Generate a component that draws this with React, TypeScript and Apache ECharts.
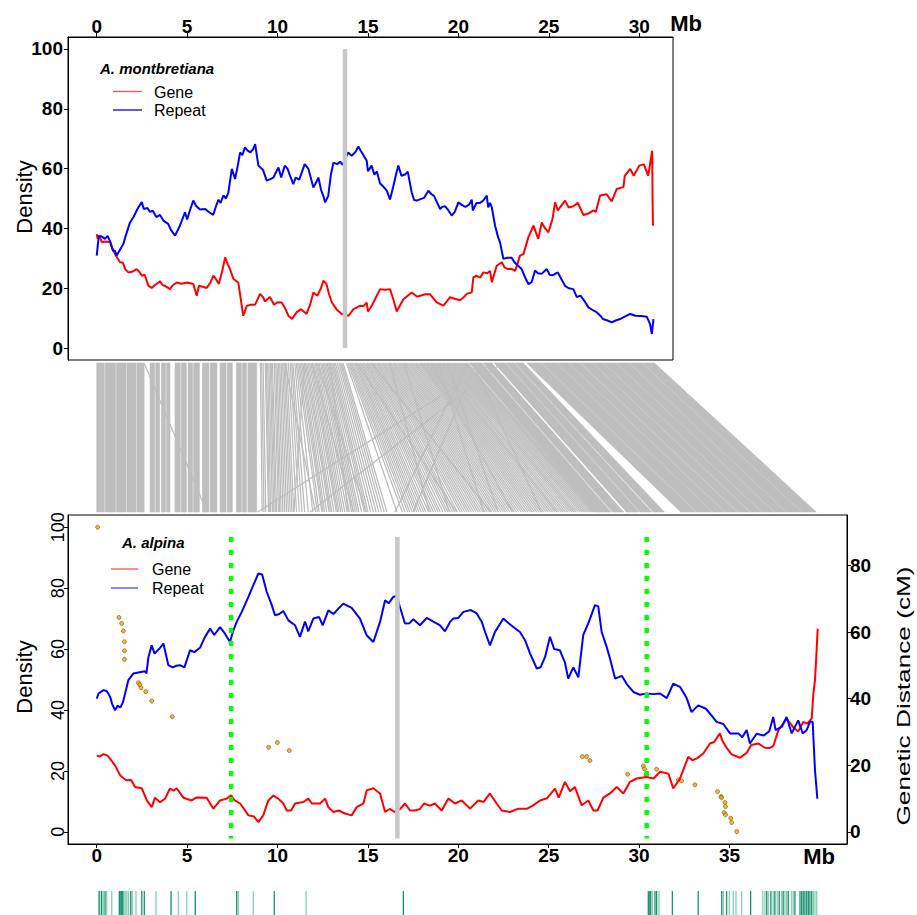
import React, { useEffect, useRef } from "react";
import * as echarts from "echarts";

const FONT = '"Liberation Sans", Arial, Helvetica, sans-serif';

// ---- A. montbretiana density (Mb, %) ----
const montRepeat: number[][] = [
  [0.0,30.9],[0.05,34],[0.12,37.6],[0.3,37.2],[0.45,36.5],[0.6,37.5],[0.75,35.5],[0.9,32.5],[1.01,32.5],[1.1,30.9],[1.25,32.5],[1.47,34.8],[1.6,37.5],[1.84,42],[2.05,44],[2.25,46.5],[2.49,48.8],[2.6,46.5],[2.8,46.8],[2.95,45.5],[3.1,45.9],[3.3,43.8],[3.5,44.5],[3.7,42.5],[3.95,41.5],[4.1,39.5],[4.33,37.6],[4.6,40.9],[4.88,45.4],[5.0,43],[5.15,46],[5.34,49.3],[5.5,47.5],[5.71,46.3],[6.0,46.5],[6.2,45.5],[6.44,44.5],[6.6,47.5],[6.73,49.6],[6.85,48.5],[7.0,51],[7.15,50],[7.28,52],[7.47,59.9],[7.65,56.5],[7.8,61],[7.93,65.4],[8.05,64.5],[8.2,67.1],[8.35,66],[8.5,65.4],[8.65,66.5],[8.76,68.2],[8.94,61],[9.2,59.5],[9.4,56],[9.6,56.5],[9.77,57],[10.05,60.4],[10.2,57],[10.4,61],[10.55,60],[10.7,57.5],[10.87,54.8],[11.0,57],[11.2,56.3],[11.5,61.5],[11.7,60],[11.98,53.7],[12.1,55],[12.26,57],[12.4,53],[12.53,50.9],[12.63,48.7],[12.8,50.8],[12.95,58],[13.09,62],[13.3,61.5],[13.46,62.3],[13.6,61.2],[13.9,65.4],[14.1,64.3],[14.3,65.5],[14.47,67.4],[14.6,66],[14.75,64.5],[14.93,62.6],[15.0,59.1],[15.2,61],[15.35,58],[15.49,59],[15.67,55],[15.85,54],[16.04,52.6],[16.22,49.7],[16.4,54],[16.55,58],[16.68,61],[16.85,57.6],[17.05,58],[17.2,59],[17.42,52],[17.55,49.5],[17.7,49.3],[17.9,49.8],[18.1,50.2],[18.34,52.6],[18.5,51.5],[18.65,50.9],[18.99,46.5],[19.1,47.2],[19.27,47.4],[19.45,46],[19.63,44.3],[19.8,45.5],[20.0,48.7],[20.2,47.8],[20.4,47.2],[20.6,48],[20.74,49.6],[20.8,46],[21.0,48.5],[21.2,48.5],[21.4,49.5],[21.57,51],[21.65,47],[21.75,48.5],[21.85,47],[22.03,40.9],[22.2,37],[22.3,35.4],[22.49,29.8],[22.7,30.2],[22.95,30.2],[23.1,28.7],[23.3,27.5],[23.5,26.4],[23.7,23.5],[23.87,21.4],[24.05,22],[24.24,25.9],[24.4,25],[24.6,24.8],[24.89,26.4],[25.05,24.5],[25.2,24.3],[25.5,25.3],[25.7,23],[25.9,20.8],[26.1,20],[26.36,19.7],[26.55,17],[26.75,17.5],[27.0,15.5],[27.19,13.6],[27.4,12.8],[27.66,11.9],[27.85,10.8],[28.0,9.7],[28.25,9.2],[28.48,8.6],[28.7,9.2],[28.94,9.7],[29.2,10.5],[29.5,11.4],[29.8,10.8],[30.1,10.7],[30.42,10.5],[30.6,8],[30.7,4.7],[30.79,9.7]
];
const montGene: number[][] = [
  [0.0,38.1],[0.05,36.5],[0.15,37.5],[0.28,35.4],[0.5,35.6],[0.74,35.4],[0.85,33.5],[1.01,31.4],[1.15,30],[1.29,28.7],[1.45,28.5],[1.57,26.4],[1.75,25.3],[1.95,25.5],[2.21,26.4],[2.35,25.5],[2.49,24.2],[2.65,24.5],[2.86,20.8],[3.04,20.1],[3.2,21],[3.5,22.3],[3.65,21],[3.78,20.8],[4.05,19.7],[4.2,21],[4.42,21.9],[4.7,21.5],[5.0,21.9],[5.34,21.4],[5.53,17.5],[5.65,20.8],[5.85,20.5],[6.08,20.1],[6.3,22],[6.45,24.2],[6.6,23],[6.75,21.4],[6.95,26],[7.1,30.3],[7.25,28],[7.37,26.4],[7.56,23.1],[7.83,21.9],[7.95,17],[8.1,10.8],[8.3,14.1],[8.5,14.5],[8.76,14.5],[9.03,18.1],[9.2,17],[9.3,15.6],[9.58,17.1],[9.8,14.5],[10.0,15.3],[10.23,15.2],[10.4,13.5],[10.6,10.8],[10.8,9.7],[11.06,12],[11.3,13],[11.6,11.4],[11.8,14.5],[11.98,18.6],[12.2,17.5],[12.4,20],[12.53,22.5],[12.7,21.5],[12.85,18],[13.0,15.3],[13.25,13],[13.55,11.4],[13.92,10.8],[14.2,13],[14.56,14.1],[14.75,14],[14.93,15.2],[15.0,12.2],[15.2,14],[15.39,16.3],[15.67,19.7],[15.95,19.5],[16.22,19.7],[16.4,16.3],[16.59,12.2],[16.96,16.3],[17.2,17.5],[17.42,18.6],[17.7,17.2],[17.9,17.5],[18.15,18],[18.43,18],[18.8,15.3],[19.17,14.2],[19.35,15.5],[19.54,17],[19.8,16.5],[20.09,16],[20.3,17],[20.46,18.1],[20.74,18.6],[20.83,23.6],[21.0,24.2],[21.2,23.5],[21.38,25.3],[21.6,25],[21.75,25.8],[21.85,22],[22.12,27.5],[22.4,28.7],[22.55,27],[22.75,26.4],[22.95,26.5],[23.14,25.8],[23.41,30.9],[23.6,31.4],[23.87,37],[24.15,40.9],[24.42,36.5],[24.61,42],[24.8,40],[24.98,38.7],[25.2,43],[25.35,48.7],[25.5,46],[25.9,49.3],[26.1,47],[26.36,47.4],[26.6,48.6],[26.91,44.5],[27.2,45],[27.47,46],[27.6,45.5],[27.84,51],[28.2,51.4],[28.48,49],[28.76,53.2],[29.13,53.8],[29.2,57.6],[29.5,59.9],[29.7,57.6],[30.0,61],[30.26,61.4],[30.5,57.6],[30.72,66],[30.74,49.8],[30.76,40.9]
];

// ---- A. alpina density (Mb, %) ----
const alpRepeat: number[][] = [
  [0.0,43.7],[0.1,45.4],[0.37,46.5],[0.55,46.2],[0.74,44.3],[0.85,42],[1.01,39.9],[1.15,41.4],[1.3,40.8],[1.45,42.5],[1.57,45.4],[1.75,49.8],[2.03,52],[2.3,52.3],[2.67,52.7],[2.75,52],[2.86,57.4],[3.04,61.2],[3.2,58.5],[3.5,60.4],[3.69,61.8],[3.96,54.7],[4.2,54],[4.4,54.5],[4.6,54.7],[4.85,54],[5.16,59.6],[5.4,59],[5.71,60.4],[5.99,64],[6.27,66.7],[6.5,64.6],[6.82,67.2],[7.05,65.4],[7.37,62.3],[7.55,66],[7.74,68.9],[8.02,72.2],[8.39,77.1],[8.66,81],[8.94,84.8],[9.15,84.5],[9.4,78.8],[9.68,74.4],[9.86,71.1],[10.1,71.5],[10.32,72.5],[10.6,69.4],[10.97,67.8],[11.24,64],[11.52,69],[11.7,65.8],[11.98,70],[12.3,70.5],[12.5,67.8],[12.81,72.7],[13.1,71.5],[13.4,73.5],[13.64,74.9],[14.1,73.5],[14.56,70],[14.93,64.5],[15.3,62.3],[15.67,68.9],[15.95,76],[16.15,75],[16.4,77.1],[16.6,77.5],[16.77,73.8],[17.05,68.4],[17.3,68.5],[17.51,69.8],[17.88,67.8],[18.25,70.2],[18.62,69],[18.99,67.8],[19.26,65.8],[19.54,68.9],[19.72,70],[20.0,70.2],[20.28,72.2],[20.7,72.8],[21.02,71.7],[21.3,68.9],[21.48,65.6],[21.75,61.2],[22.03,65.6],[22.49,70],[22.8,68.4],[23.1,67],[23.41,65.6],[23.69,62.9],[23.97,58.5],[24.34,53.6],[24.55,54],[24.8,57.4],[25.07,64],[25.3,60],[25.62,59.6],[25.9,55.5],[26.08,50.3],[26.36,54],[26.64,50.7],[26.91,64.6],[27.19,68.4],[27.56,74.4],[27.74,74],[27.93,65.6],[28.2,60.8],[28.39,56.9],[28.67,50.3],[29.04,51.2],[29.31,48.6],[29.68,45.9],[30.05,45],[30.4,45.4],[30.8,45.2],[31.16,45.4],[31.53,43.9],[31.89,48.6],[32.26,47.6],[32.63,43.9],[32.9,39.3],[33.27,41.5],[33.7,40.4],[34.29,36.1],[34.66,35.4],[35.03,32.3],[35.5,32.3],[35.7,31],[35.95,33.4],[36.13,29],[36.5,32.2],[36.9,31.6],[37.2,33],[37.42,37.7],[37.55,33.4],[37.9,34.5],[38.16,37.7],[38.44,32.3],[38.8,36.6],[39.05,32.3],[39.27,33.4],[39.45,36.1],[39.6,36.1],[39.73,20.2],[39.86,10.9]
];
const alpGene: number[][] = [
  [0.0,25.1],[0.15,24.7],[0.37,25.5],[0.6,25],[0.8,23.5],[1.01,21.8],[1.29,18.6],[1.5,17.5],[1.66,16.9],[1.9,17],[2.12,14.7],[2.49,14.3],[2.77,10.3],[3.04,8.1],[3.22,11.2],[3.5,9.7],[3.78,10.9],[4.05,14.2],[4.25,13.5],[4.42,14.3],[4.79,11.2],[5.25,10.3],[5.53,11.3],[6.08,11.2],[6.45,7.6],[6.82,10.3],[7.19,10.9],[7.43,12],[7.6,10.5],[7.93,9.3],[8.15,7.5],[8.39,5.4],[8.7,5],[8.94,3.2],[9.21,5.4],[9.49,10.3],[9.77,11.9],[10.04,10.9],[10.32,9.3],[10.51,7],[10.75,7],[10.97,9.3],[11.43,9.8],[11.7,10.9],[11.9,9.3],[12.35,9.3],[12.63,10.9],[12.81,8.1],[13.09,6.5],[13.4,7],[13.73,6],[14.1,5.4],[14.38,8.1],[14.75,9.3],[14.93,13.6],[15.3,14.3],[15.67,12.6],[15.95,6.5],[16.2,7.5],[16.5,6.5],[16.78,7.5],[17.05,9.3],[17.33,7],[17.6,7],[17.88,7.5],[18.1,9.3],[18.43,8.6],[18.7,9.3],[19.08,7],[19.45,10.9],[19.82,9.3],[20.19,10.3],[20.65,7.6],[21.1,10.3],[21.4,9.8],[21.75,12.6],[22.12,9.3],[22.4,7],[22.86,6.5],[23.32,7.6],[23.8,7.6],[24.1,8.5],[24.52,10.3],[24.9,11],[25.35,14.2],[25.55,11.2],[25.9,16.4],[26.18,13.3],[26.45,14.7],[26.82,8.7],[27.19,10.3],[27.47,7],[27.7,7],[28.02,11.2],[28.39,12.6],[28.76,14.7],[29.13,12.6],[29.5,16.4],[29.87,17.5],[30.42,18],[30.8,17.5],[31.16,19.7],[31.62,19.1],[31.89,14.2],[32.26,17.5],[32.72,24.6],[32.95,23.5],[33.2,24.1],[33.55,25.7],[33.92,29],[34.15,29.5],[34.47,32.3],[34.6,30],[34.84,27.6],[35.12,25.4],[35.58,24.3],[35.95,25.9],[36.2,28.5],[36.6,29],[36.96,27.6],[37.2,27.5],[37.42,28.1],[37.7,33.3],[38.16,37.2],[38.5,34.5],[38.8,32.9],[39.08,36.1],[39.3,35.5],[39.55,37.2],[39.64,45.4],[39.73,49.8],[39.8,57.4],[39.88,66.7]
];

// ---- A. alpina genetic map markers (Mb, cM) ----
const geneticMap: number[][] = [
  [0.05,91.5],[1.23,64.4],[1.38,62.6],[1.47,60.3],[1.53,57.1],[1.53,54.4],[1.53,51.8],[2.3,44.8],[2.38,44.2],[2.45,43.3],[2.71,42.1],[3.04,39.3],[4.18,34.6],[9.51,25.4],[9.99,26.8],[10.65,24.4],[26.86,22.6],[27.1,22.6],[27.28,21.4],[29.37,17.3],[30.23,19.8],[30.3,18.9],[30.38,17.1],[30.97,18.8],[32.17,15.6],[32.35,15.3],[33.09,14.1],[34.34,12.1],[34.53,10.6],[34.56,10.3],[34.75,8.8],[34.78,7.6],[34.7,5.8],[34.78,5.1],[35.07,4.1],[35.12,2.8],[35.4,0.1]
];

// Centromere positions (Mb) and boundary markers on A. alpina
const montCentromere = 13.73;
const alpCentromere = 16.63;
const alpBoundaries = [7.43, 30.42];

// Synteny ribbons: [top start, top end, bottom start, bottom end] (Mb)
const syntenyBlocks: number[][] = [
  [0.00,0.42,0.00,0.42],[0.47,1.05,0.47,1.05],[1.10,1.62,1.10,1.62],[1.67,2.18,1.67,2.18],[2.23,2.62,2.23,2.62],
  [2.95,3.20,2.95,3.20],[3.26,3.48,3.26,3.48],[3.58,3.80,3.58,3.80],[3.86,4.05,3.86,4.05],
  [4.33,4.62,4.33,4.62],[4.68,4.95,4.68,4.95],[5.05,5.30,5.05,5.30],[5.36,5.68,5.36,5.68],[5.85,6.20,5.85,6.20],[6.27,6.65,6.27,6.65],
  [6.82,7.15,6.82,7.15],[7.22,7.50,7.22,7.50],[7.72,8.00,7.72,8.00],[8.06,8.28,8.06,8.28],[8.36,8.85,8.36,8.85],
  [20.60,21.30,27.60,28.45],[21.36,21.85,28.52,29.15],[21.98,22.60,29.30,30.00],[22.64,23.10,30.05,30.70],
  [23.14,23.60,30.78,31.40],[23.78,24.58,32.30,33.14],[24.62,25.42,33.18,34.04],[25.45,26.08,34.07,34.72],
  [26.11,26.72,34.76,35.42],[26.76,27.42,35.46,36.12],[27.45,28.02,36.16,36.77],[28.05,28.72,36.80,37.47],
  [28.75,29.42,37.50,38.12],[29.45,30.16,38.15,38.97],[30.19,30.85,39.00,39.80]
];

// Single collinear links: [top, bottom] (Mb)
const syntenyLinks: number[][] = [
  [2.62,6.10],[21.90,8.90],[22.40,11.80],
  [9.05,9.15],[9.12,9.25],[9.20,9.35],[9.32,9.50],[9.38,9.55],[9.45,9.62],[9.52,9.72],[9.60,9.80],[9.66,9.88],[9.72,9.95],[9.82,10.05],[9.90,10.12],[9.97,10.20],[10.05,10.30],[10.12,10.40],[10.20,10.50],[10.28,10.60],[10.35,10.70],[10.42,10.80],[10.50,10.90],[10.60,11.05],[10.70,11.20],[10.78,11.35],[10.85,11.50],[10.95,11.70],[11.03,11.95],
  [11.10,12.20],[11.18,12.30],[11.25,12.45],[11.33,12.52],[11.40,12.60],[11.48,12.72],[11.55,12.85],[11.62,12.92],[11.70,13.00],[11.78,13.12],[11.85,13.25],[11.92,13.32],[12.00,13.40],[12.08,13.50],[12.15,13.60],[12.22,13.72],[12.30,13.85],[12.38,13.98],[12.45,14.10],[12.52,14.20],[12.60,14.30],[12.68,14.40],[12.75,14.50],[12.82,14.65],[12.90,14.80],[12.98,14.90],[13.05,15.00],[13.12,15.15],[13.20,15.30],[13.30,15.45],[13.40,15.60],[13.48,15.75],[13.55,15.90],[13.62,16.05],[13.82,16.60],
  [12.20,14.90],[12.90,13.90],[11.90,14.20],[10.40,12.10],[11.50,10.90],
  [13.90,16.90],[13.98,17.05],[14.05,17.20],[14.12,17.32],[14.20,17.45],[14.28,17.58],[14.35,17.70],[14.42,17.82],[14.50,17.95],[14.58,18.08],[14.65,18.20],[14.72,18.35],[14.80,18.50],[14.88,18.62],[14.95,18.75],[15.02,18.88],[15.10,19.00],[15.18,19.15],[15.25,19.30],[15.32,19.42],[15.40,19.55],[15.48,19.68],[15.55,19.80],[15.62,19.95],
  [15.70,20.10],[15.78,20.22],[15.85,20.35],[15.92,20.48],[16.00,20.60],[16.08,20.72],[16.15,20.85],[16.22,20.98],[16.30,21.10],[16.38,21.22],[16.45,21.35],[16.52,21.48],[16.60,21.60],[16.68,21.72],[16.75,21.85],[16.82,21.98],[16.90,22.10],[16.98,22.22],[17.05,22.35],[17.12,22.48],[17.20,22.60],[17.28,22.72],[17.35,22.85],[17.42,22.98],[17.50,23.10],[17.58,23.22],[17.65,23.35],[17.72,23.48],[17.80,23.60],[17.88,23.72],
  [17.95,23.85],[18.02,23.98],[18.10,24.10],[18.18,24.22],[18.25,24.35],[18.32,24.48],[18.40,24.60],[18.48,24.72],[18.55,24.85],[18.62,24.98],[18.70,25.10],[18.78,25.22],[18.85,25.35],[18.92,25.45],[19.00,25.55],[19.08,25.68],[19.15,25.80],[19.22,25.92],[19.30,26.05],[19.38,26.18],[19.45,26.30],[19.52,26.40],[19.60,26.50],[19.68,26.62],[19.75,26.75],[19.82,26.85],[19.90,26.95],[19.98,27.05],[20.05,27.15],[20.12,27.25],[20.20,27.35],[20.28,27.42],[20.35,27.50],[20.42,27.55],[20.50,27.58],
  [15.20,21.80],[17.00,19.50],[18.50,23.00],[20.50,16.50],[21.00,17.50],[19.40,22.20],[16.20,18.40],[20.80,24.60],[14.40,19.90],[18.90,21.40]
];

// Marker tick positions along A. alpina (Mb)
const markersDark = [0.13,0.27,0.46,1.25,1.33,1.38,1.44,1.88,2.49,2.63,4.11,5.45,7.74,9.82,16.96,30.51,30.56,30.64,30.88,30.97,31.84,33.27,34.57,34.84,36.17,37.06,37.29,37.51,37.75,37.97,38.25,38.62,38.9,38.99,39.08,39.17,39.27,39.36,39.45,39.55];
const markersLight = [0.18,0.36,0.55,0.83,1.51,1.57,1.66,1.75,1.97,2.17,3.28,4.51,4.98,7.83,8.66,11.58,30.73,31.1,34.66,34.99,35.21,35.36,35.67,36.84,36.96,37.15,37.42,37.64,37.88,38.07,38.16,38.44,38.53,39.64,39.73,39.82];

const topTicks = [0, 5, 10, 15, 20, 25, 30];
const bottomTicks = [0, 5, 10, 15, 20, 25, 30, 35];
const densityTicks = [0, 20, 40, 60, 80, 100];
const cmTicks = [0, 20, 40, 60, 80];

const RED = "#ff0000";
const BLUE = "#0000ff";
const GREY = "#bebebe";

export default function App() {
  const ref = useRef<HTMLDivElement>(null);
  useEffect(() => {
    if (!ref.current) return;
    const chart = echarts.init(ref.current, null, { renderer: "svg" });

    const boldTick = { fontFamily: FONT, fontSize: 19, fontWeight: "bold", color: "#000" };
    const hidden = { show: false };

    const option: any = {
      animation: false,
      backgroundColor: "#fff",
      grid: [
        { left: 68, top: 37, width: 605, height: 323, show: true, borderColor: "#000", borderWidth: 1 },
        { left: 68, top: 363, width: 779, height: 149 },
        { left: 68, top: 515, width: 779, height: 329, show: true, borderColor: "#000", borderWidth: 1 },
        { left: 68, top: 891, width: 779, height: 24 },
      ],
      xAxis: [
        {
          gridIndex: 0, type: "value", position: "top", min: -1.59, max: 31.87,
          axisLine: { onZero: false, lineStyle: { color: "#000", width: 1 } },
          axisTick: { customValues: topTicks, length: 4, lineStyle: { color: "#000" } },
          axisLabel: { ...boldTick, customValues: topTicks, margin: 1 },
          splitLine: hidden,
        },
        { gridIndex: 1, type: "value", min: -1.59, max: 41.5, show: false },
        {
          gridIndex: 2, type: "value", position: "bottom", min: -1.59, max: 41.5,
          axisLine: { onZero: false, lineStyle: { color: "#000", width: 1 } },
          axisTick: { customValues: bottomTicks, length: 4, lineStyle: { color: "#000" } },
          axisLabel: { ...boldTick, customValues: bottomTicks, margin: 2 },
          splitLine: hidden,
        },
        { gridIndex: 3, type: "value", min: -1.59, max: 41.5, show: false },
      ],
      yAxis: [
        {
          gridIndex: 0, type: "value", min: -4, max: 104,
          axisLine: { show: true, onZero: false, lineStyle: { color: "#000", width: 1 } },
          axisTick: { show: true, customValues: densityTicks, length: 4, lineStyle: { color: "#000" } },
          axisLabel: { ...boldTick, customValues: densityTicks, margin: 5 },
          splitLine: hidden,
        },
        { gridIndex: 1, type: "value", min: 0, max: 1, show: false },
        {
          gridIndex: 2, type: "value", position: "left", min: -4, max: 104,
          axisLine: { show: true, onZero: false, lineStyle: { color: "#000", width: 1 } },
          axisTick: { show: true, customValues: densityTicks, length: 4, lineStyle: { color: "#000" } },
          axisLabel: { fontFamily: FONT, fontSize: 18, color: "#000", customValues: densityTicks, rotate: 90, margin: 1 },
          splitLine: hidden,
        },
        {
          gridIndex: 2, type: "value", position: "right", min: -3.66, max: 95.16,
          axisLine: { show: true, onZero: false, lineStyle: { color: "#000", width: 1 } },
          axisTick: { show: true, customValues: cmTicks, length: 4, lineStyle: { color: "#000" } },
          axisLabel: { ...boldTick, customValues: cmTicks, margin: 3 },
          splitLine: hidden,
        },
        { gridIndex: 3, type: "value", min: 0, max: 1, show: false },
      ],
      series: [
        // synteny ribbons between the two assemblies
        {
          type: "custom", xAxisIndex: 1, yAxisIndex: 1, data: syntenyBlocks, silent: true,
          renderItem: (_p: any, api: any) => {
            const a = api.coord([api.value(0), 1]);
            const b = api.coord([api.value(1), 1]);
            const c = api.coord([api.value(3), 0]);
            const d = api.coord([api.value(2), 0]);
            return { type: "polygon", shape: { points: [a, b, c, d] }, style: { fill: GREY, stroke: GREY, lineWidth: 0.6 } };
          },
        },
        {
          type: "custom", xAxisIndex: 1, yAxisIndex: 1, data: syntenyLinks, silent: true,
          renderItem: (_p: any, api: any) => {
            const a = api.coord([api.value(0), 1]);
            const b = api.coord([api.value(1), 0]);
            return { type: "line", shape: { x1: a[0], y1: a[1], x2: b[0], y2: b[1] }, style: { stroke: GREY, lineWidth: 1.3 } };
          },
        },
        // top panel
        { type: "line", name: "mont-gene", xAxisIndex: 0, yAxisIndex: 0, data: montGene, symbol: "none", lineStyle: { color: RED, width: 2 } },
        { type: "line", name: "mont-repeat", xAxisIndex: 0, yAxisIndex: 0, data: montRepeat, symbol: "none", lineStyle: { color: BLUE, width: 2 } },
        { type: "line", name: "mont-cen", xAxisIndex: 0, yAxisIndex: 0, data: [[montCentromere, 0], [montCentromere, 100]], symbol: "none", lineStyle: { color: "#c8c8c8", width: 4.5 } },
        // bottom panel
        { type: "line", name: "alp-gene", xAxisIndex: 2, yAxisIndex: 2, data: alpGene, symbol: "none", lineStyle: { color: RED, width: 2 } },
        { type: "line", name: "alp-repeat", xAxisIndex: 2, yAxisIndex: 2, data: alpRepeat, symbol: "none", lineStyle: { color: BLUE, width: 2 } },
        { type: "line", name: "alp-cen", xAxisIndex: 2, yAxisIndex: 2, data: [[alpCentromere, -2.2], [alpCentromere, 96.8]], symbol: "none", lineStyle: { color: "#c8c8c8", width: 4.5 } },
        ...alpBoundaries.map((b, i) => ({
          type: "line", name: "boundary" + i, xAxisIndex: 2, yAxisIndex: 2, data: [[b, 96.8], [b, -2.2]], symbol: "none",
          lineStyle: { color: "#00ff00", width: 4.5, type: [5, 8] },
        })),
        {
          type: "scatter", name: "genetic-map", xAxisIndex: 2, yAxisIndex: 3, data: geneticMap, symbol: "circle", symbolSize: 4,
          itemStyle: { color: "#f5a300", borderColor: "#6a4500", borderWidth: 0.7 },
        },
        // marker ticks under the alpina axis
        {
          type: "custom", xAxisIndex: 3, yAxisIndex: 4, data: markersLight.map((m) => [m, 0.5]), silent: true,
          renderItem: (_p: any, api: any) => {
            const a = api.coord([api.value(0), 1]);
            const b = api.coord([api.value(0), 0]);
            return { type: "line", shape: { x1: a[0], y1: a[1], x2: b[0], y2: b[1] }, style: { stroke: "#86d0b4", lineWidth: 1.3 } };
          },
        },
        {
          type: "custom", xAxisIndex: 3, yAxisIndex: 4, data: markersDark.map((m) => [m, 0.5]), silent: true,
          renderItem: (_p: any, api: any) => {
            const a = api.coord([api.value(0), 1]);
            const b = api.coord([api.value(0), 0]);
            return { type: "line", shape: { x1: a[0], y1: a[1], x2: b[0], y2: b[1] }, style: { stroke: "#1a9270", lineWidth: 1.3 } };
          },
        },
      ],
      graphic: [
        { type: "text", x: 686, y: 23, style: { text: "Mb", fontFamily: FONT, fontSize: 22, fontWeight: "bold", fill: "#000", align: "center", verticalAlign: "middle" } },
        { type: "text", x: 819, y: 856, style: { text: "Mb", fontFamily: FONT, fontSize: 22, fontWeight: "bold", fill: "#000", align: "center", verticalAlign: "middle" } },
        { type: "text", x: 24, y: 197, rotation: Math.PI / 2, style: { text: "Density", fontFamily: FONT, fontSize: 22, fill: "#000", align: "center", verticalAlign: "middle" } },
        { type: "text", x: 24, y: 677, rotation: Math.PI / 2, style: { text: "Density", fontFamily: FONT, fontSize: 22, fill: "#000", align: "center", verticalAlign: "middle" } },
        { type: "text", x: 903, y: 696, rotation: Math.PI / 2, scaleX: 1.38, style: { text: "Genetic Distance (cM)", fontFamily: FONT, fontSize: 19, fill: "#000", align: "center", verticalAlign: "middle" } },
        // legends
        { type: "text", x: 100, y: 68, style: { text: "A. montbretiana", fontFamily: FONT, fontSize: 15, fontWeight: "bold", fontStyle: "italic", fill: "#000", align: "left", verticalAlign: "middle" } },
        { type: "line", shape: { x1: 113, y1: 91.5, x2: 142, y2: 91.5 }, style: { stroke: "#ff5050", lineWidth: 1.3 } },
        { type: "line", shape: { x1: 113, y1: 110, x2: 142, y2: 110 }, style: { stroke: BLUE, lineWidth: 1.3 } },
        { type: "text", x: 154, y: 92, style: { text: "Gene", fontFamily: FONT, fontSize: 16, fill: "#000", align: "left", verticalAlign: "middle" } },
        { type: "text", x: 154, y: 110, style: { text: "Repeat", fontFamily: FONT, fontSize: 16, fill: "#000", align: "left", verticalAlign: "middle" } },
        { type: "text", x: 122, y: 542, style: { text: "A. alpina", fontFamily: FONT, fontSize: 15, fontWeight: "bold", fontStyle: "italic", fill: "#000", align: "left", verticalAlign: "middle" } },
        { type: "line", shape: { x1: 111, y1: 569, x2: 138, y2: 569 }, style: { stroke: "#ff5050", lineWidth: 1.3 } },
        { type: "line", shape: { x1: 111, y1: 588, x2: 138, y2: 588 }, style: { stroke: "#4a4aff", lineWidth: 1.3 } },
        { type: "text", x: 152, y: 569, style: { text: "Gene", fontFamily: FONT, fontSize: 16, fill: "#000", align: "left", verticalAlign: "middle" } },
        { type: "text", x: 152, y: 588, style: { text: "Repeat", fontFamily: FONT, fontSize: 16, fill: "#000", align: "left", verticalAlign: "middle" } },
      ],
    };
    chart.setOption(option);
    return () => chart.dispose();
  }, []);

  return <div ref={ref} style={{ position: "fixed", left: 0, top: 0, width: 917, height: 915, background: "#fff" }} />;
}
